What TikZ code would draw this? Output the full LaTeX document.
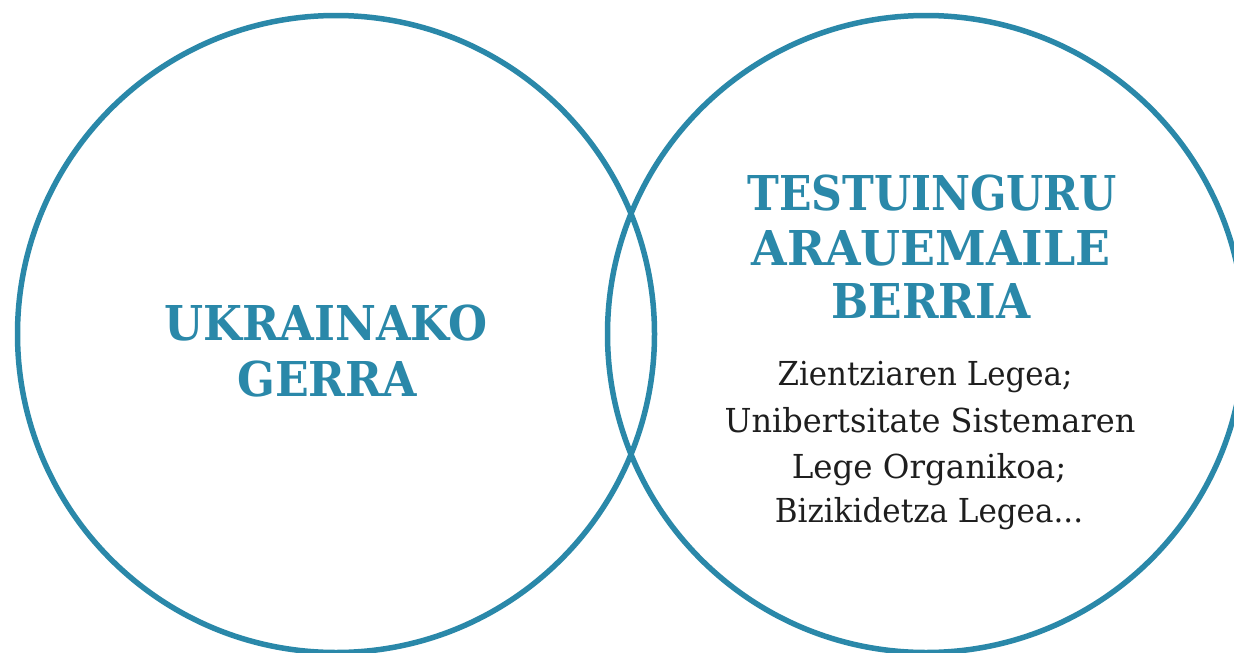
\documentclass[tikz,border=0pt]{standalone}
\usepackage{fontspec}
\setmainfont{DejaVu Serif}
\definecolor{teal}{HTML}{2A88A9}
\definecolor{ink}{HTML}{1E1E1E}
\newcommand{\xsq}[2]{\scalebox{#1}[1]{#2}}
\begin{document}
\begin{tikzpicture}[x=1pt,y=-1pt,
  ring/.style={draw=teal,line width=5.5pt},
  head/.style={text=teal,inner sep=0pt,anchor=base,font=\fontsize{48}{56}\selectfont\bfseries},
  body/.style={text=ink,inner sep=0pt,anchor=base,font=\fontsize{33}{46}\selectfont}]
\useasboundingbox (0,0) rectangle (1234,653);
\fill[white] (0,0) rectangle (1234,653);
\draw[ring] (336,334) circle[radius=318.5];
\draw[ring] (926,334) circle[radius=318.5];
\node[head] (u1) at (326,340) {\xsq{0.933}{UKRAINAKO}};
\node[head] (u2) at (327,396) {\xsq{0.923}{GERRA}};
\node[head] (t1) at (932,210) {\xsq{0.889}{TESTUINGURU}};
\node[head] (t2) at (931,265) {\xsq{0.955}{ARAUEMAILE}};
\node[head] (t3) at (931,318) {\xsq{0.917}{BERRIA}};
\node[body] (b1) at (925,385) {\xsq{0.936}{Zientziaren Legea;}};
\node[body] (b2) at (930,432) {\xsq{0.97}{Unibertsitate Sistemaren}};
\node[body] (b3) at (929,478) {\xsq{0.985}{Lege Organikoa;}};
\node[body] (b4) at (929,522) {\xsq{0.94}{Bizikidetza Legea...}};
\end{tikzpicture}
\end{document}
